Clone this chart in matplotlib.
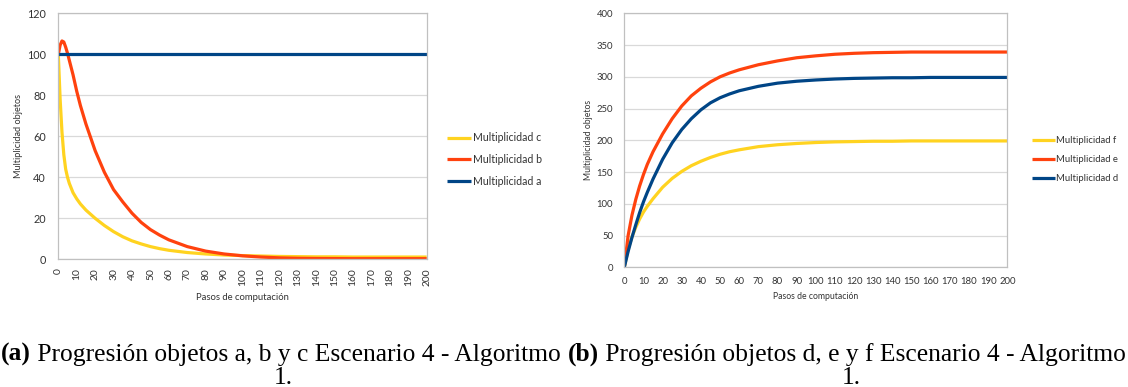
import matplotlib
matplotlib.use("Agg")
import matplotlib.pyplot as plt

# ---------------- data ----------------
x_left = [0, 1, 2, 3, 4, 5, 6, 8, 10, 12, 15, 20, 25, 30, 35, 40, 45, 50, 55, 60,
          70, 80, 90, 100, 110, 120, 130, 140, 150, 160, 170, 180, 190, 200]
mult_a = [100] * len(x_left)
mult_b = [100, 104.5, 106.5, 106, 103.5, 100.5, 97, 90, 82, 75, 66, 53, 42.5, 34, 28,
          22.5, 18, 14.5, 11.8, 9.5, 6.2, 4, 2.6, 1.7, 1.1, 0.7, 0.5, 0.4, 0.35, 0.3,
          0.3, 0.3, 0.3, 0.3]
mult_c = [100, 78, 62, 51, 44, 40, 37, 32.5, 29.5, 27, 24, 20, 16.5, 13.5, 11, 9,
          7.5, 6.2, 5.2, 4.4, 3.3, 2.6, 2.1, 1.8, 1.6, 1.4, 1.3, 1.2, 1.2, 1.1, 1.1,
          1.1, 1.1, 1.1]

x_right = [0, 2, 4, 6, 8, 10, 12, 15, 20, 25, 30, 35, 40, 45, 50, 55, 60, 70, 80, 90,
           100, 110, 120, 130, 140, 150, 160, 170, 180, 190, 200]
mult_d = [0, 25, 47, 67, 86, 103, 118, 139, 170, 196, 217, 234, 248, 259, 267, 273,
          278, 285, 290, 293, 295, 296.5, 297.5, 298, 298.5, 298.5, 299, 299, 299, 299, 299]
mult_e = [0, 50, 82, 107, 128, 146, 162, 182, 210, 234, 254, 270, 282, 292, 300, 306,
          311, 319, 325, 330, 333, 335.5, 337, 338, 338.5, 339, 339, 339, 339, 339, 339]
mult_f = [0, 28, 48, 63, 76, 87, 96, 108, 126, 140, 151, 160, 167, 173, 178, 182, 185,
          190, 193, 195, 196.5, 197.5, 198, 198.5, 198.5, 199, 199, 199, 199, 199, 199]

x_ticks = list(range(0, 201, 10))
left_yticks = [0, 20, 40, 60, 80, 100, 120]
right_yticks = [0, 50, 100, 150, 200, 250, 300, 350, 400]

labels_left = ["Multiplicidad c", "Multiplicidad b", "Multiplicidad a"]
labels_right = ["Multiplicidad f", "Multiplicidad e", "Multiplicidad d"]
xlabel = "Pasos de computación"
ylabel = "Multiplicidad objetos"
caption_a_bold = "(a)"
caption_a_text = " Progresión objetos a, b y c Escenario 4 - Algoritmo"
caption_b_bold = "(b)"
caption_b_text = " Progresión objetos d, e y f Escenario 4 - Algoritmo"
caption_line2 = "1."

# ---------------- style ----------------
BLUE = "#004586"
ORANGE = "#FF420E"
YELLOW = "#FFD320"
GRID = "#d9d9d9"
SPINE = "#c0c0c0"
TXT = "#333333"
plt.rcParams["font.family"] = ["Lato", "DejaVu Sans"]

W, H = 1128, 387
fig = plt.figure(figsize=(W / 100, H / 100), dpi=100)


def px_axes(x0, y0, x1, y1):
    return fig.add_axes([x0 / W, 1 - y1 / H, (x1 - x0) / W, (y1 - y0) / H])


def style(ax):
    for s in ax.spines.values():
        s.set_color(SPINE)
        s.set_linewidth(0.9)
    ax.grid(axis="y", color=GRID, linewidth=0.9)
    ax.set_axisbelow(True)
    ax.tick_params(length=0, colors=TXT)


lw = 2.3

# Left chart
axL = px_axes(58.3, 13.3, 426.7, 259.3)
style(axL)
lc, = axL.plot(x_left, mult_c, color=YELLOW, lw=lw, solid_capstyle="butt")
lb, = axL.plot(x_left, mult_b, color=ORANGE, lw=lw, solid_capstyle="butt")
la, = axL.plot(x_left, mult_a, color=BLUE, lw=lw, solid_capstyle="butt")
axL.set_xlim(0, 200)
axL.set_ylim(0, 120)
axL.set_xticks(x_ticks)
axL.set_xticklabels([str(t) for t in x_ticks], rotation=90, fontsize=7.4)
axL.set_yticks(left_yticks)
axL.set_yticklabels([str(t) for t in left_yticks], fontsize=7.8)
axL.tick_params(axis="y", pad=9)
axL.tick_params(axis="x", pad=6.5)
axL.set_xlabel(xlabel, fontsize=6.8, color=TXT, labelpad=5)
axL.set_ylabel(ylabel, fontsize=6.6, color=TXT, labelpad=2.5)
axL.legend([lc, lb, la], labels_left, loc="center left",
           bbox_to_anchor=(447 / W, 1 - 159.5 / H), bbox_transform=fig.transFigure,
           frameon=False, fontsize=7.6, handlelength=2.3, handletextpad=0.15,
           labelspacing=1.0, borderaxespad=0, borderpad=0,
           labelcolor=TXT)

# Right chart
axR = px_axes(624.3, 13.3, 1007.3, 267.3)
style(axR)
lf, = axR.plot(x_right, mult_f, color=YELLOW, lw=lw, solid_capstyle="butt")
le, = axR.plot(x_right, mult_e, color=ORANGE, lw=lw, solid_capstyle="butt")
ld, = axR.plot(x_right, mult_d, color=BLUE, lw=lw, solid_capstyle="butt")
axR.set_xlim(0, 200)
axR.set_ylim(0, 400)
axR.set_xticks(x_ticks)
axR.set_xticklabels([str(t) for t in x_ticks], fontsize=6.8)
axR.set_yticks(right_yticks)
axR.set_yticklabels([str(t) for t in right_yticks], fontsize=6.8)
axR.tick_params(axis="y", pad=8)
axR.tick_params(axis="x", pad=7)
axR.set_xlabel(xlabel, fontsize=6.2, color=TXT, labelpad=4)
axR.set_ylabel(ylabel, fontsize=6.2, color=TXT, labelpad=2.5)
axR.legend([lf, le, ld], labels_right, loc="center left",
           bbox_to_anchor=(1032 / W, 1 - 159.5 / H), bbox_transform=fig.transFigure,
           frameon=False, fontsize=6.8, handlelength=2.4, handletextpad=0.15,
           labelspacing=1.05, borderaxespad=0, borderpad=0,
           labelcolor=TXT)

# ---------------- captions ----------------
SERIF = ["Liberation Serif", "DejaVu Serif"]
fig.canvas.draw()
renderer = fig.canvas.get_renderer()


def text_width(s, size, weight="normal"):
    t = fig.text(0, 0, s, fontsize=size, family=SERIF, fontweight=weight)
    w = t.get_window_extent(renderer).width
    t.remove()
    return w


def caption(bold, rest, x_left_px, x_right_px, center2_px):
    target = x_right_px - x_left_px
    base = 10
    w = text_width(bold, base, "bold") + text_width(rest, base)
    size = base * target / w
    wb = text_width(bold, size, "bold")
    y1 = 1 - 361 / H
    fig.text(x_left_px / W, y1, bold, fontsize=size, family=SERIF,
             fontweight="bold", ha="left", va="baseline", color="black")
    fig.text((x_left_px + wb) / W, y1, rest, fontsize=size, family=SERIF,
             ha="left", va="baseline", color="black")
    fig.text(center2_px / W, 1 - 384 / H, caption_line2, fontsize=size, family=SERIF,
             ha="center", va="baseline", color="black")


caption(caption_a_bold, caption_a_text, 1, 559, 283)
caption(caption_b_bold, caption_b_text, 568, 1126, 851)

fig.savefig("out.png", dpi=100, facecolor="white")
